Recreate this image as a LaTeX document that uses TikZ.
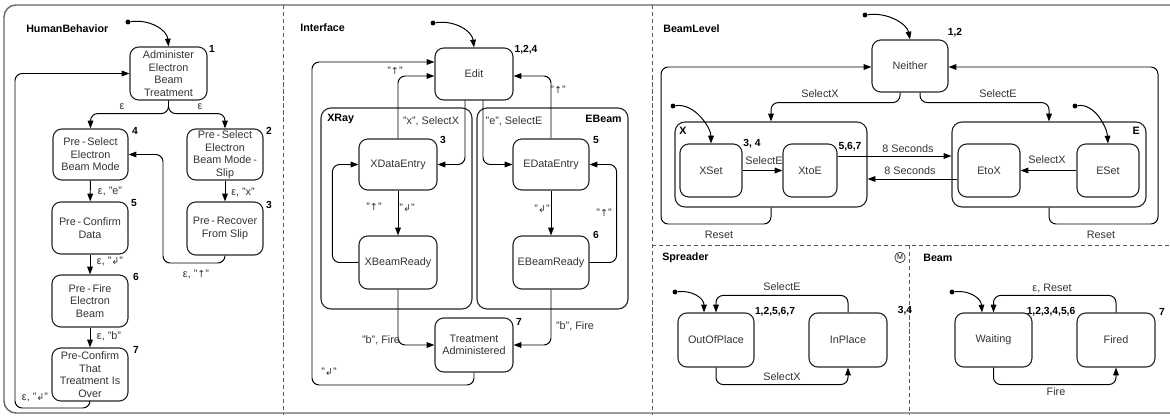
\documentclass[tikz,border=0pt]{standalone}
\usepackage{fontspec}
\setmainfont{Liberation Sans}
\newfontfamily\symfont{DejaVu Sans}
\usetikzlibrary{arrows.meta,calc}
\newcommand{\arrup}{{\symfont\fontsize{6.8}{7}\selectfont ↑}}
\newcommand{\arrret}{{\symfont\fontsize{6.8}{7}\selectfont ↲}}
\begin{document}
\begin{tikzpicture}[x=0.025cm, y=-0.025cm,
  font=\fontsize{7.7}{8.9}\selectfont,
  state/.style={draw=black!85, line width=0.8pt, rounded corners=0.22cm, align=center, inner sep=0pt, text=black!80},
  wh/.style 2 args={minimum width=#1*0.025cm, minimum height=#2*0.025cm},
  box/.style={draw=black!85, line width=0.8pt, rounded corners=0.25cm, inner sep=0pt},
  arr/.style={-{Triangle[length=5.5pt,width=4pt]}, line width=0.7pt, rounded corners=0.18cm},
  lbl/.style={inner sep=0pt, text=black!80},
  num/.style={inner sep=0pt, font=\fontsize{7.3}{8}\selectfont\bfseries},
  title/.style={inner sep=0pt, anchor=west, font=\fontsize{7.6}{9}\selectfont\bfseries},
  dot/.style={circle, fill, inner sep=0pt, minimum size=3.5pt},
  frame/.style={draw=black!60, line width=1pt},
  sep/.style={draw=black!65, line width=0.7pt, dash pattern=on 3pt off 2pt}]

\clip (0,0) rectangle (1170,415);

% outer frame and region separators
\draw[frame, rounded corners=0.3cm] (4,5) rectangle (1190,413);
\draw[sep] (283,5) -- (283,415);
\draw[sep] (652,5) -- (652,415);
\draw[sep] (652,245) -- (1170,245);
\draw[sep] (909,245) -- (909,415);

% ---------------- HumanBehavior ----------------
\node[title] (thb) at (26,29) {HumanBehavior};
\node[state, wh={77}{53}] (adm) at (168.5,73.5) {Administer\\Electron\\Beam\\Treatment};
\node[state, wh={75}{51}] (ps4) at (90.5,154.5) {Pre\,-\,Select\\Electron\\Beam Mode};
\node[state, wh={76}{51}] (ps2) at (225,154.5) {Pre\,-\,Select\\Electron\\Beam Mode\,-\\Slip};
\node[state, wh={76}{52}] (pcd) at (90,228) {Pre\,-\,Confirm\\Data};
\node[state, wh={76}{53}] (prs) at (225,228.5) {Pre\,-\,Recover\\From Slip};
\node[state, wh={76}{52}] (pfe) at (90,301) {Pre\,-\,Fire\\Electron\\Beam};
\node[state, wh={76}{53}] (pct) at (90,374.5) {Pre-Confirm\\That\\Treatment Is\\Over};

\node[num] (n1) at (212,49) {1};
\node[num] (n4) at (135,131) {4};
\node[num] (n2) at (269,131) {2};
\node[num] (n5) at (134,203) {5};
\node[num] (n3) at (269,205) {3};
\node[num] (n6) at (136,277) {6};
\node[num] (n7) at (136,350) {7};

\node[dot] (ihb) at (128,22) {};
\draw[arr] (ihb) .. controls (150,19) and (167,30) .. (adm.north);
\draw[arr] (adm.south) -- ++(0,13) -| (ps4.north);
\draw[arr] (adm.south) -- ++(0,13) -| (ps2.north);
\draw[arr] (ps4) -- (pcd);
\draw[arr] (ps2) -- (prs);
\draw[arr] (pcd) -- (pfe);
\draw[arr] (pfe) -- (pct);
\draw[arr] (prs.south) |- (163,263) |- (ps4.east);
\draw[arr] (pct.south) |- (15,408) |- (adm.west);

\node[lbl] (e1) at (122,107) {ε};
\node[lbl] (e2) at (200,107) {ε};
\node[lbl] (e3) at (110,191) {ε, "e"};
\node[lbl] (e4) at (243,192) {ε, "x"};
\node[lbl] (e5) at (110,261) {ε, "\arrret"};
\node[lbl] (e6) at (109,336) {ε, "b"};
\node[lbl] (e7) at (196,274) {ε, "\arrup"};
\node[lbl] (e8) at (35,397) {ε, "\arrret"};

% ---------------- Interface ----------------
\node[title] (tif) at (300,28) {Interface};
\node[box, wh={151}{201}] (xray) at (396.5,208.5) {};
\node[box, wh={151}{201}] (ebeam) at (552.5,208.5) {};
\node[title] (txr) at (327,119) {XRay};
\node[title, anchor=east] (teb) at (622,119) {EBeam};

\node[state, wh={78}{52}] (edit) at (474,74) {Edit};
\node[state, wh={78}{51}] (xde) at (398,164.5) {XDataEntry};
\node[state, wh={76}{51}] (ede) at (551,164.5) {EDataEntry};
\node[state, wh={78}{53}] (xbr) at (398,262.5) {XBeamReady};
\node[state, wh={76}{53}] (ebr) at (551,262.5) {EBeamReady};
\node[state, wh={78}{54}] (ta) at (474,345) {Treatment\\Administered};

\node[num] (m124) at (526,50) {1,2,4};
\node[num] (m3) at (443,140) {3};
\node[num] (m5) at (596,140) {5};
\node[num] (m6) at (596,235) {6};
\node[num] (m7) at (519,322) {7};

\node[dot] (iif) at (433,23) {};
\draw[arr] (iif) .. controls (455,20) and (472,31) .. (edit.north);
\draw[arr] (ta.south) |- (312,385) |- ($(edit.west)+(0,-12)$);
\draw[arr] (xde.north) |- ($(edit.west)+(0,2)$);
\draw[arr] (ede.north) |- ($(edit.east)+(0,2)$);
\draw[arr] ($(edit.south)+(-9,0)$) |- (xde.east);
\draw[arr] ($(edit.south)+(9,0)$) |- (ede.west);
\draw[arr] (xde) -- (xbr);
\draw[arr] (ede) -- (ebr);
\draw[arr] (xbr.west) -- ++(-26,0) |- (xde.west);
\draw[arr] (ebr.east) -- ++(27,0) |- (ede.east);
\draw[arr] (xbr.south) |- (ta.west);
\draw[arr] (ebr.south) |- (ta.east);

\node[lbl] (f1) at (395,71) {"\arrup"};
\node[lbl] (f2) at (431,121) {"x", SelectX};
\node[lbl] (f3) at (514,121) {"e", SelectE};
\node[lbl] (f4) at (558,90) {"\arrup"};
\node[lbl] (f5) at (374,207) {"\arrup"};
\node[lbl] (f6) at (407,208) {"\arrret"};
\node[lbl] (f7) at (542,209) {"\arrret"};
\node[lbl] (f8) at (604,213) {"\arrup"};
\node[lbl] (f9) at (381,340) {"b", Fire};
\node[lbl] (f10) at (575,326) {"b", Fire};
\node[lbl] (f11) at (329,372) {"\arrret"};

% ---------------- BeamLevel ----------------
\node[title] (tbl) at (663,29) {BeamLevel};
\node[box, wh={192}{85}] (xc) at (771,164.5) {};
\node[box, wh={194}{85}] (ec) at (1049,164.5) {};
\node[title] (txc) at (679,131) {X};
\node[title, anchor=east] (tec) at (1140,131) {E};

\node[state, wh={76}{52}] (nei) at (910,66) {Neither};
\node[state, wh={62}{53}] (xset) at (711,170.5) {XSet};
\node[state, wh={54}{53}] (xtoe) at (810,170.5) {XtoE};
\node[state, wh={62}{53}] (etox) at (989,170.5) {EtoX};
\node[state, wh={62}{53}] (eset) at (1108,170.5) {ESet};

\node[num] (b12) at (955,33) {1,2};
\node[num] (b34) at (752,144) {3, 4};
\node[num] (b567) at (850,147) {5,6,7};

\node[dot] (ibl) at (865,15) {};
\node[dot] (ix) at (673,106) {};
\node[dot] (ie) at (1075,106) {};
\draw[arr] (ibl) .. controls (888,12) and (907,24) .. (nei.north);
\draw[arr] (ix) .. controls (695,103) and (711,128) .. (xset.north);
\draw[arr] (ie) .. controls (1095,103) and (1107,128) .. (eset.north);
\draw[arr] ($(nei.south)+(-10,0)$) -- ++(0,10) -| (xc.north);
\draw[arr] ($(nei.south)+(10,0)$) -- ++(0,10) -| (ec.north);
\draw[arr] (xc.south) |- (661,224) |- ($(nei.west)+(0,1)$);
\draw[arr] (ec.south) |- (1158,224) |- ($(nei.east)+(0,1)$);
\draw[arr] (xset) -- (xtoe);
\draw[arr] (eset) -- (etox);
\coordinate (s1) at ($(xtoe.east)+(0,-14.5)$);
\coordinate (s2) at ($(etox.west)+(0,8.5)$);
\draw[arr] (s1) -- (s1 -| ec.west);
\draw[arr] (s2) -- (s2 -| xc.east);

\node[lbl] (g1) at (820,94) {SelectX};
\node[lbl] (g2) at (998,94) {SelectE};
\node[lbl] (g3) at (764,161) {SelectE};
\node[lbl] (g4) at (1047,160) {SelectX};
\node[lbl] (g5) at (908,149) {8 Seconds};
\node[lbl] (g6) at (910,171) {8 Seconds};
\node[lbl] (g7) at (719,235) {Reset};
\node[lbl] (g8) at (1101,235) {Reset};

% ---------------- Spreader ----------------
\node[title] (tsp) at (662,258) {Spreader};
\node[circle, draw=black!80, line width=0.5pt, inner sep=0pt, minimum size=0.26cm,
      font=\fontsize{5}{5}\selectfont] (mk) at (900,257.5) {M};
\node[state, wh={76}{54}] (oop) at (716,340) {OutOfPlace};
\node[state, wh={78}{54}] (inp) at (848,340) {InPlace};
\node[num] (c1) at (775,312) {1,2,5,6,7};
\node[num] (c2) at (905,311) {3,4};
\node[dot] (isp) at (675,292) {};
\draw[arr] (isp) .. controls (692,290) and (704,298) .. ($(oop.north)+(-12,0)$);
\draw[arr] (inp.north) -- ++(0,-17) -| (oop.north);
\draw[arr] (oop.south) -- ++(0,17) -| (inp.south);
\node[lbl] (h1) at (782,287) {SelectE};
\node[lbl] (h2) at (782,377) {SelectX};

% ---------------- Beam ----------------
\node[title] (tbm) at (923,258) {Beam};
\node[state, wh={77}{54}] (wt) at (993.5,340) {Waiting};
\node[state, wh={78}{54}] (fd) at (1116,340) {Fired};
\node[num] (d1) at (1051,312) {1,2,3,4,5,6};
\node[num] (d2) at (1162,312) {7};
\node[dot] (ibm) at (952,292) {};
\draw[arr] (ibm) .. controls (969,290) and (981,298) .. ($(wt.north)+(-11.5,0)$);
\draw[arr] (fd.north) -- ++(0,-17) -| (wt.north);
\draw[arr] (wt.south) -- ++(0,17) -| (fd.south);
\node[lbl] (k1) at (1052,288) {ε, Reset};
\node[lbl] (k2) at (1056,392) {Fire};
\end{tikzpicture}
\end{document}
